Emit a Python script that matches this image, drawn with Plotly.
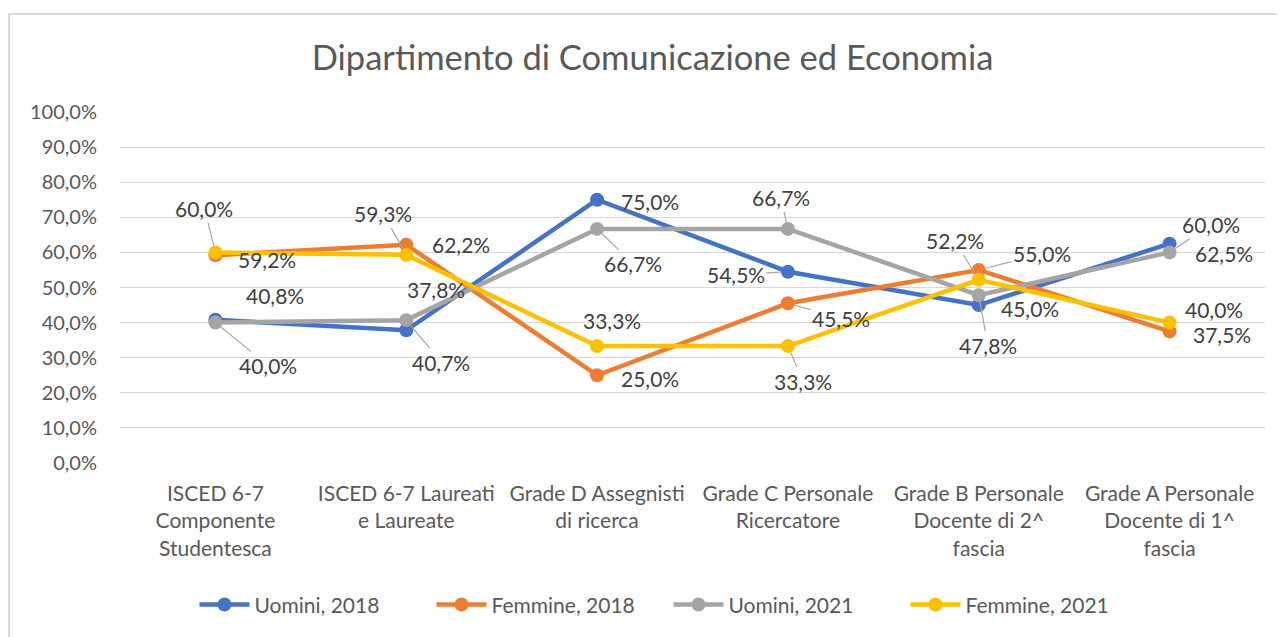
import plotly.graph_objects as go

categories = [
    "ISCED 6-7<br>Componente<br>Studentesca",
    "ISCED 6-7 Laureati<br>e Laureate",
    "Grade D Assegnisti<br>di ricerca",
    "Grade C Personale<br>Ricercatore",
    "Grade B Personale<br>Docente di 2^<br>fascia",
    "Grade A Personale<br>Docente di 1^<br>fascia",
]
series_names = ["Uomini, 2018", "Femmine, 2018", "Uomini, 2021", "Femmine, 2021"]
uomini_2018 = [40.8, 37.8, 75.0, 54.5, 45.0, 62.5]
femmine_2018 = [59.2, 62.2, 25.0, 45.5, 55.0, 37.5]
uomini_2021 = [40.0, 40.7, 66.7, 66.7, 47.8, 60.0]
femmine_2021 = [60.0, 59.3, 33.3, 33.3, 52.2, 40.0]
y_ticks = [0, 10, 20, 30, 40, 50, 60, 70, 80, 90, 100]
y_tick_labels = ["0,0%", "10,0%", "20,0%", "30,0%", "40,0%", "50,0%",
                 "60,0%", "70,0%", "80,0%", "90,0%", "100,0%"]

colors = ["#4472C4", "#ED7D31", "#A5A5A5", "#FFC000"]
series_values = [uomini_2018, femmine_2018, uomini_2021, femmine_2021]

# label offsets in pixels (dx, dy, leader line?) per series, per category
label_offsets = [
    [(60, -24, False), (30, -41, False), (53, 2, False), (-52, 3, True), (51, 3, False), (54, 10, False)],
    [(52, 4, False), (55, 0, False), (53, 3, False), (53, 15, True), (63, -16, True), (52, 3, False)],
    [(53, 43, True), (35, 42, True), (36, 35, True), (-7, -31, True), (9, 50, True), (41, -28, True)],
    [(-11, -44, True), (-23, -41, True), (15, -26, False), (15, 35, True), (-24, -39, True), (44, -13, False)],
]

font_family = "Lato, 'Open Sans', sans-serif"

fig = go.Figure()
for name, vals, col in zip(series_names, series_values, colors):
    fig.add_trace(go.Scatter(
        x=categories, y=vals, name=name, mode="lines+markers",
        line=dict(color=col, width=4.5),
        marker=dict(color=col, size=14),
        cliponaxis=False,
    ))

annotations = []
for vals, offs in zip(series_values, label_offsets):
    for cat, v, (dx, dy, lead) in zip(categories, vals, offs):
        annotations.append(dict(
            x=cat, y=v, xref="x", yref="y",
            text=f"{v:.1f}%".replace(".", ","),
            showarrow=True, ax=dx, ay=dy,
            arrowhead=0, arrowwidth=1.2, standoff=7,
            arrowcolor="#A6A6A6" if lead else "rgba(0,0,0,0)",
            font=dict(size=21, color="#404040", family=font_family),
        ))

fig.update_layout(
    width=1285, height=637,
    paper_bgcolor="white", plot_bgcolor="white",
    margin=dict(l=112, r=28, t=104, b=182),
    separators=",.",
    title=dict(text="Dipartimento di Comunicazione ed Economia",
               x=0.5016, xanchor="center", y=0.9215, yanchor="middle",
               font=dict(size=34.5, color="#595959", family=font_family)),
    font=dict(family=font_family, color="#595959"),
    showlegend=True,
    legend=dict(orientation="h", x=0.514, xref="container", xanchor="center",
                y=0.063, yref="container", yanchor="middle",
                font=dict(size=21, color="#595959"), itemwidth=50,
                entrywidth=172, entrywidthmode="pixels",
                traceorder="normal"),
    annotations=annotations,
    shapes=[dict(type="rect", xref="paper", yref="paper",
                 x0=-0.0969, x1=1.1, y0=-0.7, y1=1.279,
                 line=dict(color="#D9D9D9", width=2))],
)
fig.update_xaxes(range=[-0.5, 5.5], showgrid=False, showline=False, ticks="",
                 ticklabelstandoff=16,
                 tickfont=dict(size=21, color="#595959"))
fig.update_yaxes(range=[0, 100], tickvals=y_ticks, ticktext=y_tick_labels,
                 showgrid=True, gridcolor="#D9D9D9", gridwidth=1,
                 zeroline=False, showline=False, ticklabelstandoff=22,
                 tickfont=dict(size=20, color="#595959"))

fig.write_html("out.html")
